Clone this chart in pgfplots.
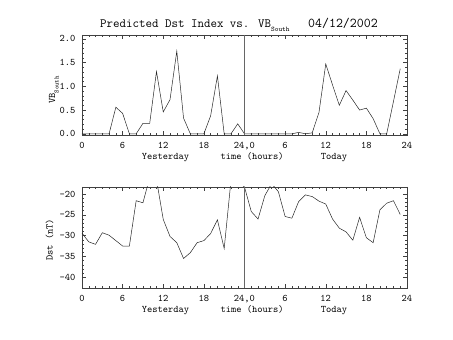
\documentclass[border=0pt]{standalone}
\usepackage{pgfplots}
\pgfplotsset{compat=1.18}
\pgfplotstableread{
h v
0 0
1 0
2 0
3 0
4 0
5 0.56
6 0.43
7 0
8 0
9 0.22
10 0.22
11 1.31
12 0.46
13 0.72
14 1.74
15 0.33
16 0
17 0
18 0
19 0.38
20 1.22
21 0
22 0
23 0.21
24 0
25 0
26 0
27 0
28 0
29 0
30 0
31 0
32 0.03
33 0
34 0.02
35 0.45
36 1.47
37 1.03
38 0.60
39 0.91
40 0.71
41 0.50
42 0.54
43 0.32
44 0
45 0
46 0.68
47 1.37
}\vbtable
\pgfplotstableread{
h d
0 -29.4
1 -31.5
2 -32.1
3 -29.3
4 -29.9
5 -31.2
6 -32.5
7 -32.5
8 -21.6
9 -22.1
10 -16.0
11 -16.5
12 -26.1
13 -30.2
14 -31.7
15 -35.5
16 -34.1
17 -31.7
18 -31.2
19 -29.5
20 -26.2
21 -33.1
22 -16.8
23 -17.0
24 -18.3
25 -24.2
26 -26.0
27 -20.4
28 -17.5
29 -19.4
30 -25.4
31 -25.8
32 -21.8
33 -20.2
34 -20.6
35 -21.7
36 -22.4
37 -26.0
38 -28.2
39 -29.1
40 -31.1
41 -25.6
42 -30.5
43 -31.7
44 -23.8
45 -22.2
46 -21.6
47 -24.9
}\dsttable
\begin{document}
\begin{tikzpicture}
\useasboundingbox (0pt,0pt) rectangle (453pt,340pt);
\pgfplotsset{
  myaxis/.style={
    scale only axis, width=325pt, height=100pt, anchor=south west,
    xmin=0, xmax=48, xtick={0,6,...,48},
    xticklabels={0,6,12,18,{24,0},6,12,18,24},
    minor x tick num=5, minor y tick num=4,
    tick align=inside,
    major tick length=4pt, minor tick length=2.3pt,
    axis line style={black!75, line width=0.5pt},
    every tick/.style={black!75, line width=0.4pt},
    tick label style={font=\ttfamily\fontsize{10}{12}\selectfont},
    /pgf/number format/assume math mode=true,
    xticklabel style={anchor=base, yshift=-14pt},
    yticklabel style={anchor=east, xshift=-3pt},
  }
}
% top axis
\begin{axis}[myaxis, at={(82pt,205pt)},
  ymin=-0.025, ymax=2.08, ytick={0,0.5,...,2.0},
  yticklabel style={/pgf/number format/.cd, fixed, fixed zerofill, precision=1}]
\addplot[black!85, line width=0.5pt] table[x=h, y=v] {\vbtable};
\draw[black!60, line width=0.5pt] ({axis cs:24,0}|-{rel axis cs:0,0}) -- ({axis cs:24,0}|-{rel axis cs:0,1});
\end{axis}
% bottom axis
\begin{axis}[myaxis, at={(82pt,52pt)}, height=101pt,
  ymin=-42.6, ymax=-18.3, ytick={-40,-35,-30,-25,-20},
  yticklabels={-40,-35,-30,-25,-20}]
\addplot[black!85, line width=0.5pt] table[x=h, y=d] {\dsttable};
\draw[black!60, line width=0.5pt] ({axis cs:24,-30}|-{rel axis cs:0,0}) -- ({axis cs:24,-30}|-{rel axis cs:0,1});
\end{axis}
% title
\node[anchor=base west, inner sep=0, font=\ttfamily\fontsize{12.6}{14}\selectfont] at (100pt,312.5pt)
  {Predicted Dst Index vs. VB\raisebox{-4.5pt}{\fontsize{7}{8}\selectfont South}};
\node[anchor=base west, inner sep=0, font=\ttfamily\fontsize{13.5}{15}\selectfont] at (308pt,312.5pt) {04/12/2002};
% x labels
\foreach \yy in {180pt,27pt} {
  \node[anchor=base, inner sep=0, font=\ttfamily\fontsize{10}{12}\selectfont] at (165.5pt,\yy) {Yesterday};
  \node[anchor=base, inner sep=0, font=\ttfamily\fontsize{10}{12}\selectfont] at (252pt,\yy) {time (hours)};
  \node[anchor=base, inner sep=0, font=\ttfamily\fontsize{10}{12}\selectfont] at (334pt,\yy) {Today};
}
% y labels
\node[rotate=90, anchor=base, inner sep=0, font=\ttfamily\fontsize{10}{12}\selectfont] at (55pt,250pt)
  {VB\raisebox{-3.5pt}{\fontsize{6.5}{7}\selectfont South}};
\node[rotate=90, anchor=base, inner sep=0, font=\ttfamily\fontsize{10}{12}\selectfont] at (52.5pt,100pt) {Dst (nT)};
\end{tikzpicture}
\end{document}
